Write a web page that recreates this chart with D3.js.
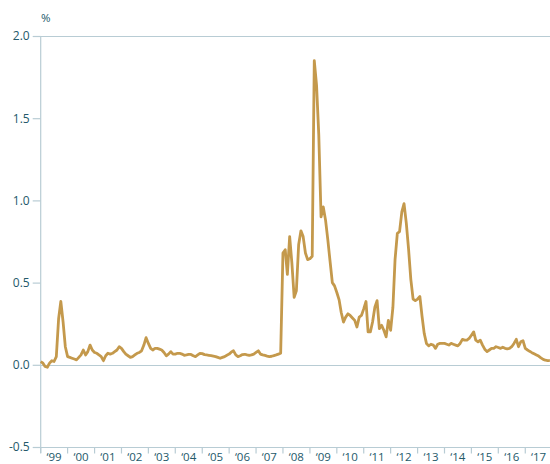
<!DOCTYPE html>
<html>
<head>
<meta charset="utf-8">
<script src="https://cdn.jsdelivr.net/npm/d3@7"></script>
<style>
  html, body { margin: 0; padding: 0; background: #fff; }
  svg { display: block; }
  text { font-family: "Open Sans", "Noto Sans", sans-serif; fill: #24596a; }
</style>
</head>
<body>
<svg id="chart" width="550" height="464"></svg>
<script>
// Monthly values, Jan 1999 .. Dec 2017 (percent)
const startYear = 1999;
const endYear = 2018;
const values = [
  // 1999
  0.02, 0.01, -0.01, -0.015, 0.01, 0.025, 0.02, 0.05, 0.28, 0.385, 0.26, 0.11,
  // 2000
  0.05, 0.045, 0.04, 0.035, 0.03, 0.045, 0.06, 0.09, 0.06, 0.08, 0.12, 0.09,
  // 2001
  0.075, 0.07, 0.06, 0.05, 0.025, 0.055, 0.07, 0.065, 0.07, 0.08, 0.09, 0.11,
  // 2002
  0.10, 0.08, 0.065, 0.055, 0.045, 0.05, 0.06, 0.07, 0.075, 0.085, 0.12, 0.165,
  // 2003
  0.13, 0.10, 0.09, 0.10, 0.10, 0.095, 0.09, 0.075, 0.055, 0.065, 0.08, 0.065,
  // 2004
  0.065, 0.07, 0.07, 0.065, 0.058, 0.06, 0.063, 0.063, 0.055, 0.05, 0.06, 0.07,
  // 2005
  0.068, 0.062, 0.06, 0.058, 0.056, 0.053, 0.05, 0.045, 0.04, 0.045, 0.05, 0.058,
  // 2006
  0.065, 0.078, 0.085, 0.06, 0.05, 0.055, 0.062, 0.064, 0.06, 0.057, 0.06, 0.065,
  // 2007
  0.075, 0.085, 0.065, 0.06, 0.057, 0.053, 0.05, 0.052, 0.056, 0.06, 0.065, 0.07,
  // 2008
  0.68, 0.70, 0.55, 0.78, 0.62, 0.41, 0.45, 0.73, 0.815, 0.78, 0.68, 0.64,
  // 2009
  0.645, 0.66, 1.85, 1.70, 1.40, 0.90, 0.96, 0.88, 0.76, 0.63, 0.50, 0.48,
  // 2010
  0.44, 0.395, 0.32, 0.26, 0.29, 0.31, 0.30, 0.285, 0.27, 0.23, 0.29, 0.30,
  // 2011
  0.34, 0.385, 0.20, 0.20, 0.26, 0.35, 0.39, 0.22, 0.24, 0.21, 0.17, 0.27,
  // 2012
  0.21, 0.35, 0.64, 0.80, 0.81, 0.93, 0.98, 0.86, 0.70, 0.52, 0.40, 0.39,
  // 2013
  0.40, 0.415, 0.30, 0.19, 0.13, 0.115, 0.125, 0.12, 0.10, 0.125, 0.13, 0.13,
  // 2014
  0.13, 0.125, 0.12, 0.13, 0.125, 0.12, 0.115, 0.13, 0.155, 0.15, 0.15, 0.16,
  // 2015
  0.18, 0.20, 0.15, 0.14, 0.15, 0.12, 0.095, 0.08, 0.09, 0.10, 0.10, 0.11,
  // 2016
  0.105, 0.10, 0.107, 0.10, 0.097, 0.10, 0.11, 0.13, 0.155, 0.11, 0.14, 0.147,
  // 2017
  0.10, 0.09, 0.082, 0.074, 0.067, 0.06, 0.053, 0.042, 0.033, 0.028, 0.026, 0.025
];
const yTicks = [-0.5, 0.0, 0.5, 1.0, 1.5, 2.0];
const yTickLabels = ["-0.5", "0.0", "0.5", "1.0", "1.5", "2.0"];
const years = d3.range(startYear, endYear); // 1999..2017
const yearLabels = years.map(y => "\u2018" + String(y).slice(2));
const unitLabel = "%";

const data = values.map((v, i) => ({ date: new Date(startYear, i, 1), value: v }));

const svg = d3.select("#chart");
const mLeft = 40.7, mTop = 36, mBottom = 447;
const x = d3.scaleTime()
  .domain([new Date(startYear, 0, 1), new Date(endYear, 0, 1)])
  .range([mLeft, mLeft + 26.92 * (endYear - startYear)]);
const y = d3.scaleLinear().domain([-0.5, 2.0]).range([mBottom, mTop]);

const axisColor = "#b8ccd4";

// horizontal lines at 2.0, 0.0 and -0.5
[2.0, 0.0, -0.5].forEach(v => {
  svg.append("line")
    .attr("x1", mLeft).attr("x2", 550)
    .attr("y1", Math.round(y(v)) + 0.5).attr("y2", Math.round(y(v)) + 0.5)
    .attr("stroke", axisColor).attr("stroke-width", 1.2);
});

// y axis
const yAxis = d3.axisLeft(y).tickValues(yTicks)
  .tickFormat((d, i) => yTickLabels[i]).tickSize(8).tickPadding(3);
const gy = svg.append("g").attr("transform", `translate(${mLeft},0)`).call(yAxis);
gy.select(".domain").remove();
gy.selectAll(".tick line").attr("stroke", axisColor).attr("stroke-width", 1.2);
gy.selectAll(".tick text").style("font-size", "12px").attr("fill", "#24596a")
  .style("font-family", "'Open Sans', 'Noto Sans', sans-serif");
svg.append("line")
  .attr("x1", mLeft).attr("x2", mLeft)
  .attr("y1", mTop).attr("y2", mBottom + 6)
  .attr("stroke", axisColor).attr("stroke-width", 1.2);

// x axis: ticks at year boundaries, labels mid-year
const gx = svg.append("g").attr("transform", `translate(0,${Math.round(mBottom) + 0.5})`);
gx.selectAll("line.yt").data(years.concat([endYear])).enter().append("line")
  .attr("class", "yt")
  .attr("x1", d => x(new Date(d, 0, 1))).attr("x2", d => x(new Date(d, 0, 1)))
  .attr("y1", 0).attr("y2", 6)
  .attr("stroke", axisColor).attr("stroke-width", 1.2);
gx.selectAll("text").data(years).enter().append("text")
  .attr("x", d => x(new Date(d, 6, 1)))
  .attr("y", 13.5)
  .attr("text-anchor", "middle")
  .style("font-size", "11.5px")
  .text((d, i) => yearLabels[i]);

// unit label
svg.append("text").attr("x", 41).attr("y", 22).style("font-size", "11.5px").text(unitLabel);

// line
const line = d3.line().x(d => x(d.date)).y(d => y(d.value));
svg.append("path").datum(data)
  .attr("fill", "none")
  .attr("stroke", "#c4994c")
  .attr("stroke-width", 2.8)
  .attr("stroke-linejoin", "round")
  .attr("d", line);
</script>
</body>
</html>
